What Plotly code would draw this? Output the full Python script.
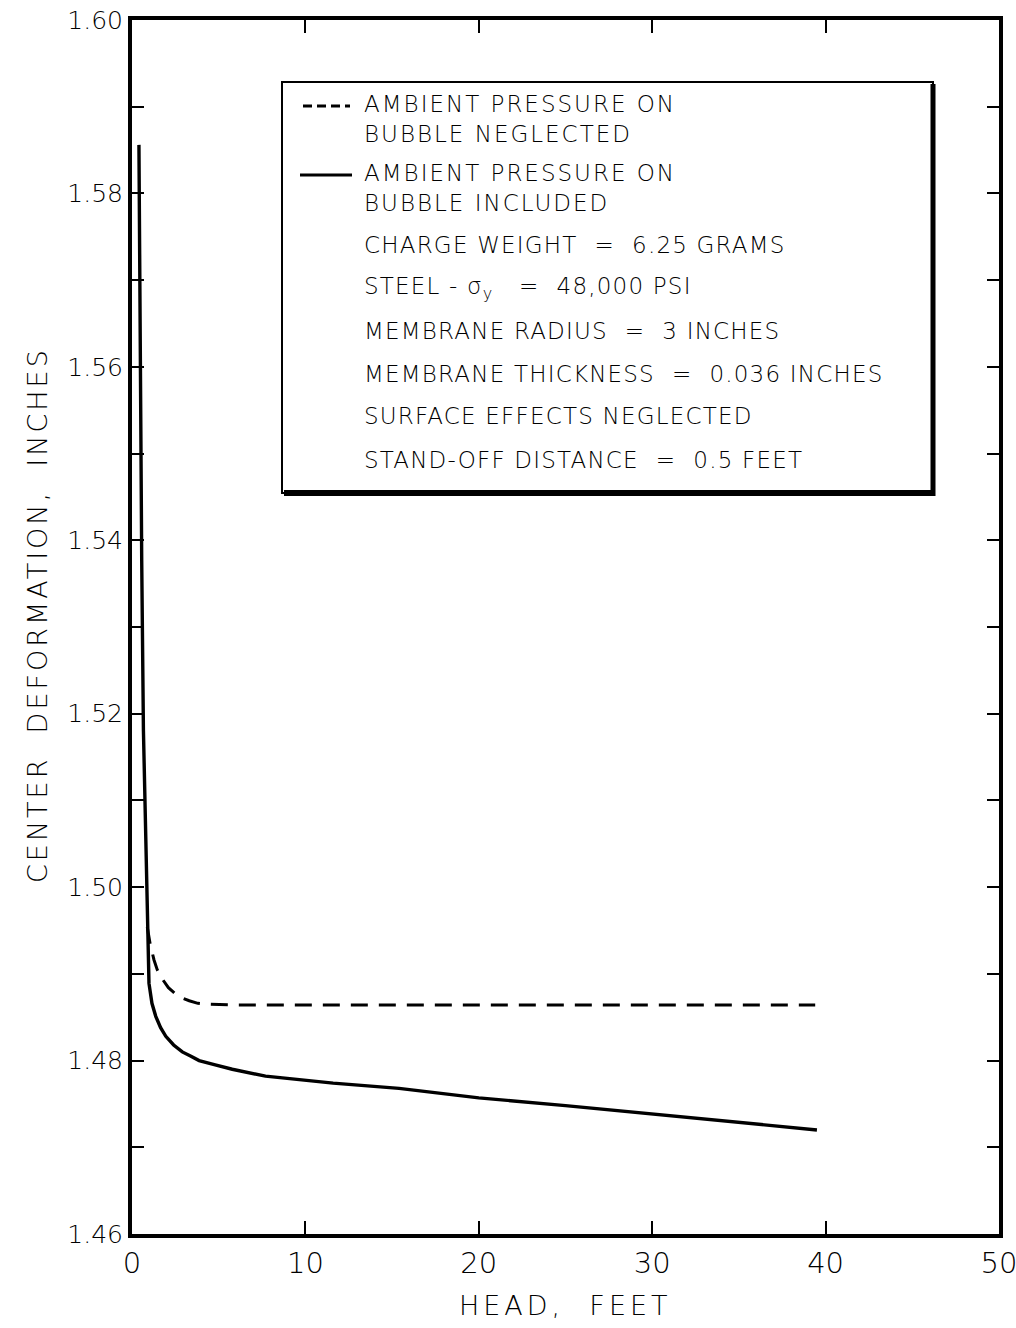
import plotly.graph_objects as go

# ---- data ----
head_included = [0.40, 0.48, 0.56, 0.66, 0.79, 0.88, 0.98, 1.15, 1.37, 1.65, 1.95, 2.4, 2.9, 3.4, 3.87, 4.8, 5.78, 7.7, 9.5, 11.6, 15.4, 20.0, 25.0, 30.2, 35.0, 39.5]
defl_included = [1.5856, 1.5600, 1.5377, 1.5180, 1.5043, 1.4954, 1.4889, 1.4866, 1.4851, 1.4838, 1.4828, 1.4818, 1.4810, 1.4805, 1.4800, 1.4795, 1.4790, 1.4782, 1.4778, 1.4774, 1.4768, 1.4757, 1.4748, 1.4738, 1.4729, 1.4720]

head_neglected = [0.88, 1.05, 1.27, 1.45, 1.75, 2.1, 2.5, 2.8, 3.3, 3.8, 4.26, 6.0, 10.0, 20.0, 30.0, 39.4]
defl_neglected = [1.4954, 1.4934, 1.4916, 1.4905, 1.4894, 1.4884, 1.4877, 1.4873, 1.4869, 1.4866, 1.4865, 1.4864, 1.4864, 1.4864, 1.4864, 1.4864]

x_ticks = [0, 10, 20, 30, 40, 50]
y_ticks = [1.46, 1.48, 1.50, 1.52, 1.54, 1.56, 1.58, 1.60]

legend_series = ["AMBIENT PRESSURE ON<br>BUBBLE NEGLECTED", "AMBIENT PRESSURE ON<br>BUBBLE INCLUDED"]
legend_notes = [
    "CHARGE WEIGHT  =  6.25 GRAMS",
    "STEEL - σ<sub>y</sub>   =  48,000 PSI",
    "MEMBRANE RADIUS  =  3 INCHES",
    "MEMBRANE THICKNESS  =  0.036 INCHES",
    "SURFACE EFFECTS NEGLECTED",
    "STAND-OFF DISTANCE  =  0.5 FEET",
]

FONT = "DejaVu Sans"
INK = "black"

fig = go.Figure()
fig.add_trace(go.Scatter(x=head_neglected, y=defl_neglected, mode="lines",
                         line=dict(color=INK, width=3, dash="17px,11px"), showlegend=False))
fig.add_trace(go.Scatter(x=head_included, y=defl_included, mode="lines",
                         line=dict(color=INK, width=3.4), showlegend=False))

# plot area in pixels: x 132..999, y 20..1234
L, R, T, B = 132, 999, 20, 1234
W, H = 1016, 1328
def px(xp):
    return (xp - L) / (R - L)
def py(yp):
    return (B - yp) / (B - T)

def spaced(s, ls):
    return f'<span style="letter-spacing:{ls}px">{s}</span>'

ann = []
series_y = [119, 188]
for txt, yc in zip(legend_series, series_y):
    ann.append(dict(x=px(362), y=py(yc), xref="paper", yref="paper", xanchor="left", yanchor="middle",
                    text=spaced(txt, 2), showarrow=False, align="left",
                    font=dict(family=FONT, size=23, color=INK, weight=300)))
notes_y = [245, 288, 331, 374, 416, 460]
for txt, yc in zip(legend_notes, notes_y):
    ann.append(dict(x=px(362), y=py(yc), xref="paper", yref="paper", xanchor="left", yanchor="middle",
                    text=spaced(txt, 1.2), showarrow=False, align="left",
                    font=dict(family=FONT, size=23, color=INK, weight=300)))
ann.append(dict(x=px(38), y=py(615), xref="paper", yref="paper", xanchor="center", yanchor="middle",
                text=spaced("CENTER  DEFORMATION,  INCHES", 3), textangle=-90, showarrow=False,
                font=dict(family=FONT, size=27, color=INK, weight=300)))
ann.append(dict(x=px(565), y=py(1305), xref="paper", yref="paper", xanchor="center", yanchor="middle",
                text=spaced("HEAD,  FEET", 4), showarrow=False,
                font=dict(family=FONT, size=27, color=INK, weight=300)))

shapes = [
    dict(type="rect", xref="paper", yref="paper", x0=px(282), x1=px(933), y0=py(493), y1=py(82),
         line=dict(color=INK, width=2)),
    dict(type="line", xref="paper", yref="paper", x0=px(933), x1=px(933), y0=py(496), y1=py(84),
         line=dict(color=INK, width=5)),
    dict(type="line", xref="paper", yref="paper", x0=px(284), x1=px(935), y0=py(493), y1=py(493),
         line=dict(color=INK, width=6)),
    dict(type="line", xref="paper", yref="paper", x0=px(303), x1=px(350), y0=py(106), y1=py(106),
         line=dict(color=INK, width=3, dash="9px,5px")),
    dict(type="line", xref="paper", yref="paper", x0=px(300), x1=px(352), y0=py(175), y1=py(175),
         line=dict(color=INK, width=3)),
]

fig.update_layout(
    width=W, height=H,
    margin=dict(l=L, r=W - R, t=T, b=H - B, autoexpand=False),
    paper_bgcolor="white", plot_bgcolor="white",
    showlegend=False,
    annotations=ann, shapes=shapes,
    font=dict(family=FONT, color=INK),
)
fig.update_xaxes(range=[0, 50], tickvals=x_ticks, ticktext=[str(v) for v in x_ticks],
                 ticks="inside", ticklen=13, tickwidth=2, tickcolor=INK,
                 showline=True, linewidth=4, linecolor=INK, mirror="ticks",
                 showgrid=False, zeroline=False, ticklabeloverflow="allow", automargin=False,
                 tickfont=dict(family=FONT, size=29, color=INK, weight=300))
fig.update_yaxes(range=[1.46, 1.60], tickvals=y_ticks, ticktext=[f"{v:.2f}" for v in y_ticks],
                 ticks="inside", ticklen=12, tickwidth=2, tickcolor=INK,
                 minor=dict(dtick=0.01, tick0=1.46, ticks="inside", ticklen=12, tickwidth=2, tickcolor=INK),
                 showline=True, linewidth=4, linecolor=INK, mirror="ticks",
                 showgrid=False, zeroline=False, ticklabeloverflow="allow", automargin=False,
                 tickfont=dict(family=FONT, size=25, color=INK, weight=300))

fig.write_html("out.html")
